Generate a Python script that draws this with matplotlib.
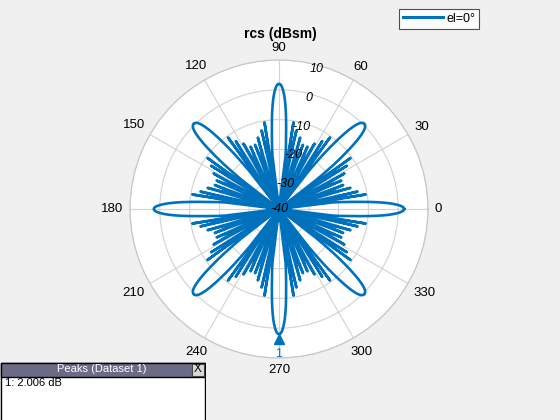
import numpy as np
import matplotlib
matplotlib.use("Agg")
import matplotlib.pyplot as plt
from matplotlib.patches import Rectangle
from matplotlib.transforms import ScaledTranslation

plt.rcParams['font.family'] = ['Liberation Sans', 'DejaVu Sans']

# ── Data: one octant (0..45 deg), in dBsm ────────────────────────────────────
OCT_ANGLES = [0.0, 0.5, 1.0, 1.5, 2.0, 2.5, 3.0, 3.5, 4.0, 4.5, 5.0, 5.5, 6.0,
              6.5, 7.0, 7.5, 9.5, 11.0, 12.5, 14.5, 16.5, 18.5, 20.5, 22.5,
              24.5, 26.5, 28.5, 30.5, 32.5, 34.0, 35.5, 37.0, 38.0, 38.5, 39.0,
              39.5, 40.0, 40.5, 41.0, 41.5, 42.0, 42.5, 43.0, 43.5, 44.0, 44.5,
              45.0]
OCT_DB = [2.006, 1.9, 1.5, 0.8, -0.2, -1.5, -3.0, -5.0, -7.2, -9.8, -12.5,
          -15.0, -17.5, -19.5, -22.0, -40.0, -10.5, -27.0, -13.0, -40.0, -15.0,
          -26.0, -17.0, -40.0, -17.0, -26.0, -15.0, -40.0, -13.0, -27.0, -10.5,
          -40.0, -24.0, -20.0, -16.5, -13.5, -11.0, -8.5, -6.3, -4.4, -2.9,
          -1.7, -0.8, -0.2, 0.2, 0.4, 0.5]
R_MIN, R_MAX = -40, 10
R_TICKS = [-40, -30, -20, -10, 0, 10]
THETA_TICKS = list(range(0, 360, 30))
PEAK_ANGLE = 270
PEAK_DB = 2.006
LINE_COLOR = '#0072BD'

# quadrant is mirror symmetric about 45 deg; the four quadrants repeat
a = np.array(OCT_ANGLES)
d = np.array(OCT_DB)
quad_a = np.concatenate([a, 90 - a[::-1][1:]])
quad_d = np.concatenate([d, d[::-1][1:]])
theta = np.concatenate([quad_a[:-1] + 90 * k for k in range(4)] + [[360.0]])
vals = np.concatenate([quad_d[:-1]] * 4 + [[quad_d[0]]])
vals = np.clip(vals, R_MIN, R_MAX)

fig = plt.figure(figsize=(5.6, 4.2), dpi=100, facecolor='#f0f0f0')
ax = fig.add_axes([130 / 560, 62 / 420, 298 / 560, 298 / 420], projection='polar')
ax.set_facecolor('white')

ax.plot(np.deg2rad(theta), vals, color=LINE_COLOR, lw=1.9, label='el=0°', zorder=3)
ax.set_ylim(R_MIN, R_MAX)

ax.set_xticks(np.deg2rad(THETA_TICKS))
ax.set_xticklabels([])
ax.set_yticks(R_TICKS)
ax.set_yticklabels([])
ax.grid(color='#d2d2d2', lw=0.8)
ax.spines['polar'].set_color('#c4c4c4')
ax.spines['polar'].set_linewidth(0.8)

# angle labels just outside the outer ring
for t in THETA_TICKS:
    tr = np.deg2rad(t)
    w = 7 * len(str(t))
    gap = 7 + 0.5 * (abs(np.cos(tr)) * w + abs(np.sin(tr)) * 10)
    off = ScaledTranslation(gap * np.cos(tr) / 100, gap * np.sin(tr) / 100,
                            fig.dpi_scale_trans)
    ax.text(tr, R_MAX, str(t), fontsize=9.5, ha='center', va='center',
            transform=ax.transData + off, clip_on=False)

# italic magnitude labels along 75 deg, just inside each ring
for r in R_TICKS:
    rr = r - 1.4 if r > R_MIN else R_MIN
    ax.text(np.deg2rad(75), rr, str(r), fontsize=9, style='italic',
            ha='center', va='center', zorder=4)

# peak marker
ax.plot(np.deg2rad(PEAK_ANGLE), PEAK_DB, marker='^', ms=7, color=LINE_COLOR,
        transform=ax.transData + ScaledTranslation(0, -5 / 100, fig.dpi_scale_trans),
        zorder=5, clip_on=False)
ax.annotate('1', xy=(np.deg2rad(PEAK_ANGLE), PEAK_DB), xytext=(0, -20),
            textcoords='offset pixels', ha='center', va='center',
            color=LINE_COLOR, fontsize=9, annotation_clip=False)

fig.text(280 / 560, 1 - 34 / 420, 'rcs (dBsm)', ha='center', va='center',
         fontsize=10, fontweight='bold')

leg = fig.legend(loc='upper right', bbox_to_anchor=(479 / 560, 1 - 9 / 420),
                 fontsize=9, frameon=True, fancybox=False, handlelength=3.2,
                 borderpad=0.3, handletextpad=0.25, borderaxespad=0)
leg.get_frame().set_edgecolor('#262626')
leg.get_frame().set_linewidth(0.8)
leg.get_lines()[0].set_linewidth(2.2)

# "Peaks (Dataset 1)" table in the lower-left corner
tab = fig.add_axes([0, 0, 206 / 560, 58 / 420])
tab.set_xlim(0, 206)
tab.set_ylim(58, 0)
tab.axis('off')
tab.add_patch(Rectangle((0.5, 0.5), 205, 60, facecolor='white', edgecolor='black', lw=1))
tab.add_patch(Rectangle((0.5, 0.5), 205, 14, facecolor='#6b6b88', edgecolor='black', lw=1))
tab.add_patch(Rectangle((192, 1.5), 12, 12, facecolor='#d8d8d8', edgecolor='#444444', lw=0.8))
tab.text(102, 7.5, 'Peaks (Dataset 1)', color='white', fontsize=8, ha='center', va='center')
tab.text(198, 7.5, 'X', color='black', fontsize=8.5, ha='center', va='center')
tab.text(5, 21, '1: 2.006 dB', color='black', fontsize=8, ha='left', va='center')

fig.savefig('out.png', dpi=100, facecolor=fig.get_facecolor())
